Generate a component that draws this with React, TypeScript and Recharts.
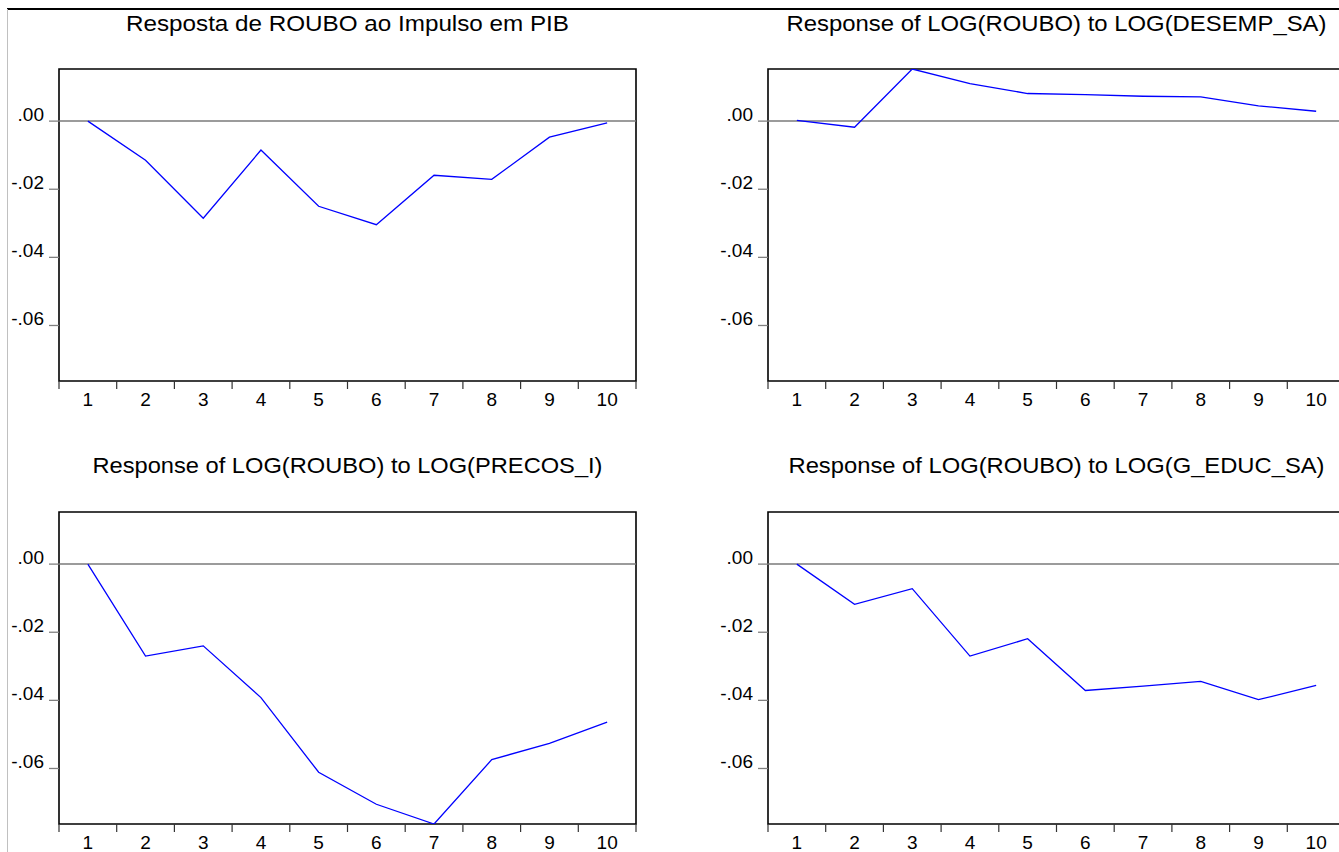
import React from "react";
import { LineChart, Line, XAxis, YAxis, ReferenceLine, ReferenceArea } from "recharts";

const FONT = "'Liberation Sans', Arial, Helvetica, sans-serif";

// ---- data ----
const periods = [1, 2, 3, 4, 5, 6, 7, 8, 9, 10];
const periodLabels = ["1", "2", "3", "4", "5", "6", "7", "8", "9", "10"];
const pibResp = [0, -0.0115, -0.0285, -0.0085, -0.025, -0.0304, -0.0159, -0.0171, -0.0047, -0.0005];
const desempResp = [0.0002, -0.0018, 0.0153, 0.011, 0.0081, 0.0078, 0.0073, 0.0071, 0.0045, 0.0029];
const precosResp = [0, -0.027, -0.024, -0.0392, -0.0611, -0.0705, -0.0763, -0.0574, -0.0526, -0.0464];
const educResp = [0, -0.0118, -0.0072, -0.027, -0.0219, -0.0371, -0.0358, -0.0344, -0.0398, -0.0356];
const yTicks = [0, -0.02, -0.04, -0.06];
const yTickLabels = [".00", "-.02", "-.04", "-.06"];
const titles = [
  "Resposta de ROUBO ao Impulso em PIB",
  "Response of LOG(ROUBO) to LOG(DESEMP_SA)",
  "Response of LOG(ROUBO) to LOG(PRECOS_I)",
  "Response of LOG(ROUBO) to LOG(G_EDUC_SA)",
];

const data = periods.map((p, i) => ({
  period: p,
  pib: pibResp[i],
  desemp: desempResp[i],
  precos: precosResp[i],
  educ: educResp[i],
}));

const Y_MIN = -0.0763;
const Y_MAX = 0.0153;
const xTickValues: number[] = [];
periods.forEach((p) => {
  xTickValues.push(p - 0.5);
  xTickValues.push(p);
});
xTickValues.push(periods[periods.length - 1] + 0.5);

type PanelProps = {
  left: number;
  top: number;
  width: number;
  height: number;
  plotLeft: number;
  plotRight: number;
  plotTop: number;
  plotBottom: number;
  title: string;
  titleWidth: number;
  titleBaseline: number;
  dataKey: string;
};

function Panel(props: PanelProps) {
  const { left, top, width, height, plotLeft, plotRight, plotTop, plotBottom, title, titleWidth, titleBaseline, dataKey } = props;

  const XTick = (tp: any) => {
    const { x, payload } = tp;
    const v = payload.value;
    if (Number.isInteger(v)) {
      return (
        <text x={x} y={plotBottom + 25} textAnchor="middle" fontSize={19} fontFamily={FONT} fill="#000">
          {periodLabels[v - 1]}
        </text>
      );
    }
    return <line x1={x} x2={x} y1={plotBottom} y2={plotBottom + 8} stroke="#333" strokeWidth={1.2} />;
  };

  const YTick = (tp: any) => {
    const { y, payload } = tp;
    const idx = yTicks.indexOf(payload.value);
    return (
      <g>
        <line x1={plotLeft - 10} x2={plotLeft} y1={y} y2={y} stroke="#808080" strokeWidth={1.3} />
        <text x={plotLeft - 15} y={y} textAnchor="end" fontSize={19} fontFamily={FONT} fill="#000">
          {idx >= 0 ? yTickLabels[idx] : ""}
        </text>
      </g>
    );
  };

  return (
    <div style={{ position: "absolute", left, top, width, height }}>
      <LineChart
        width={width}
        height={height}
        data={data}
        margin={{ top: plotTop, right: width - plotRight, bottom: 0, left: 0 }}
      >
        <text
          x={(plotLeft + plotRight) / 2}
          y={titleBaseline}
          textAnchor="middle"
          fontSize={22}
          fontFamily={FONT}
          fill="#000"
          textLength={titleWidth}
          lengthAdjust="spacingAndGlyphs"
        >
          {title}
        </text>
        <XAxis
          dataKey="period"
          type="number"
          domain={[0.5, 10.5]}
          ticks={xTickValues}
          interval={0}
          axisLine={false}
          tickLine={false}
          tick={<XTick />}
          height={height - plotBottom}
          allowDataOverflow
        />
        <YAxis
          type="number"
          domain={[Y_MIN, Y_MAX]}
          ticks={yTicks}
          interval={0}
          axisLine={false}
          tickLine={false}
          tick={<YTick />}
          width={plotLeft}
          allowDataOverflow
        />
        <ReferenceLine y={0} stroke="#7a7a7a" strokeWidth={1.5} />
        <Line
          dataKey={dataKey}
          type="linear"
          stroke="#0000ff"
          strokeWidth={1.3}
          dot={false}
          activeDot={false}
          isAnimationActive={false}
        />
        <ReferenceArea
          x1={0.5}
          x2={10.5}
          y1={Y_MIN}
          y2={Y_MAX}
          fill="none"
          fillOpacity={0}
          stroke="#000"
          strokeWidth={1.6}
          ifOverflow="visible"
        />
      </LineChart>
    </div>
  );
}

export default function App() {
  return (
    <div
      style={{
        position: "absolute",
        left: 0,
        top: 0,
        width: 1339,
        height: 852,
        overflow: "hidden",
        background: "#fff",
      }}
    >
      <div style={{ position: "absolute", left: 7, top: 8, width: 1340, height: 2, background: "#000" }} />
      <div style={{ position: "absolute", left: 7, top: 9, width: 1, height: 850, background: "#c0c0c0" }} />
      <Panel
        left={0}
        top={0}
        width={660}
        height={430}
        plotLeft={59}
        plotRight={636}
        plotTop={69}
        plotBottom={381}
        title={titles[0]}
        titleWidth={443}
        titleBaseline={31}
        dataKey="pib"
      />
      <Panel
        left={680}
        top={0}
        width={680}
        height={430}
        plotLeft={88}
        plotRight={665}
        plotTop={69}
        plotBottom={381}
        title={titles[1]}
        titleWidth={540}
        titleBaseline={31}
        dataKey="desemp"
      />
      <Panel
        left={0}
        top={430}
        width={660}
        height={422}
        plotLeft={59}
        plotRight={636}
        plotTop={82}
        plotBottom={394}
        title={titles[2]}
        titleWidth={510}
        titleBaseline={43}
        dataKey="precos"
      />
      <Panel
        left={680}
        top={430}
        width={680}
        height={422}
        plotLeft={88}
        plotRight={665}
        plotTop={82}
        plotBottom={394}
        title={titles[3]}
        titleWidth={536}
        titleBaseline={43}
        dataKey="educ"
      />
    </div>
  );
}
